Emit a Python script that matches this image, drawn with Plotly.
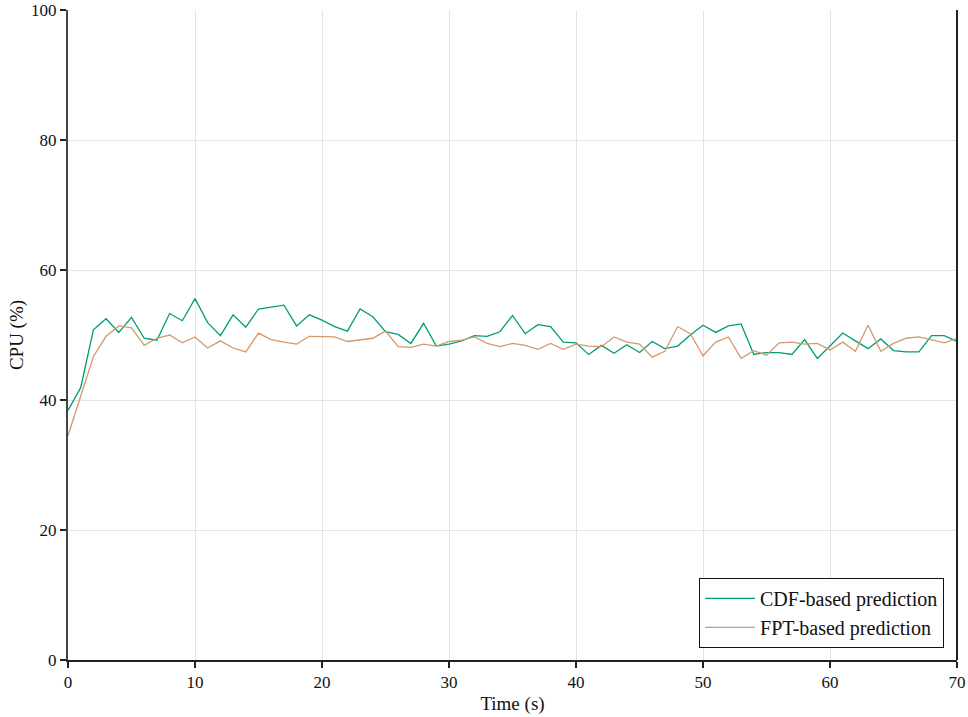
import plotly.graph_objects as go

time_s = list(range(0, 71))

cdf_pred = [38.4, 41.9, 50.8, 52.5, 50.4, 52.7, 49.5, 49.2, 53.3, 52.2,
            55.6, 51.9, 49.9, 53.1, 51.2, 54.0, 54.3, 54.6, 51.4, 53.1,
            52.3, 51.3, 50.6, 54.0, 52.8, 50.5, 50.1, 48.7, 51.8, 48.3,
            48.6, 49.1, 49.9, 49.8, 50.5, 53.0, 50.2, 51.6, 51.3, 48.9,
            48.8, 47.0, 48.4, 47.2, 48.5, 47.3, 49.0, 47.9, 48.3, 50.0,
            51.5, 50.4, 51.4, 51.7, 47.0, 47.3, 47.3, 47.0, 49.3, 46.4,
            48.3, 50.3, 49.1, 47.9, 49.4, 47.6, 47.4, 47.4, 49.9, 49.9,
            49.0]

fpt_pred = [34.5, 40.6, 46.7, 49.8, 51.4, 51.1, 48.4, 49.5, 50.0, 48.8,
            49.7, 48.0, 49.1, 48.0, 47.4, 50.3, 49.3, 48.9, 48.6, 49.8,
            49.8, 49.7, 49.0, 49.3, 49.5, 50.6, 48.2, 48.1, 48.6, 48.3,
            49.0, 49.2, 49.7, 48.7, 48.2, 48.7, 48.4, 47.8, 48.7, 47.8,
            48.6, 48.3, 48.2, 49.7, 48.9, 48.6, 46.6, 47.5, 51.3, 50.2,
            46.8, 48.9, 49.7, 46.4, 47.6, 46.9, 48.8, 48.9, 48.6, 48.7,
            47.7, 48.9, 47.5, 51.5, 47.5, 48.7, 49.5, 49.7, 49.2, 48.8,
            49.5]

x_ticks = [0, 10, 20, 30, 40, 50, 60, 70]
y_ticks = [0, 20, 40, 60, 80, 100]

font_family = "Liberation Serif"

fig = go.Figure()
fig.add_trace(go.Scatter(x=time_s, y=cdf_pred, mode="lines",
                         name="CDF-based prediction",
                         line=dict(color="#009E73", width=1.3)))
fig.add_trace(go.Scatter(x=time_s, y=fpt_pred, mode="lines",
                         name="FPT-based prediction",
                         line=dict(color="#D4996C", width=1.3)))

fig.update_layout(
    width=968, height=717,
    margin=dict(l=68, r=11, t=10, b=57, autoexpand=False),
    plot_bgcolor="white", paper_bgcolor="white",
    font=dict(family=font_family, size=17, color="#111111"),
    showlegend=True,
    legend=dict(x=0.9854, y=0.0185, xanchor="right", yanchor="bottom",
                bgcolor="white", bordercolor="#111111", borderwidth=1,
                font=dict(family=font_family, size=20),
                itemwidth=50, tracegroupgap=0),
)

fig.update_xaxes(
    range=[0, 70], tickvals=x_ticks, ticktext=[str(v) for v in x_ticks],
    title=dict(text="Time (s)", font=dict(size=19), standoff=6),
    showgrid=True, gridcolor="#e3e3e3", gridwidth=1,
    showline=True, linecolor="#222222", linewidth=1.5,
    ticks="outside", ticklen=6, tickwidth=1.5, tickcolor="#222222",
    zeroline=False, tickfont=dict(size=17), automargin=False,
)
fig.update_yaxes(
    range=[0, 100], tickvals=y_ticks, ticktext=[str(v) for v in y_ticks],
    title=dict(text="CPU (%)", font=dict(size=19), standoff=2),
    showgrid=True, gridcolor="#e3e3e3", gridwidth=1,
    showline=True, linecolor="#444444", linewidth=2,
    ticks="outside", ticklen=6, tickwidth=1.5, tickcolor="#222222",
    zeroline=False, tickfont=dict(size=17), automargin=False,
)

fig.add_shape(type="line", xref="paper", yref="paper",
              x0=1, x1=1, y0=0, y1=1,
              line=dict(color="#222222", width=2))

fig.write_html("out.html")
